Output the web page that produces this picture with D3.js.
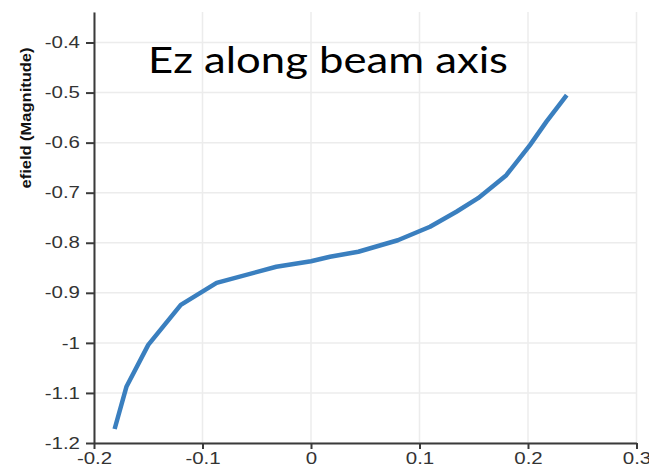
<!DOCTYPE html>
<html>
<head>
<meta charset="utf-8">
<script src="https://cdn.jsdelivr.net/npm/d3@7"></script>
<style>
  html, body { margin: 0; padding: 0; background: #fff; }
  svg { display: block; }
</style>
</head>
<body>
<svg id="chart" width="649" height="467"></svg>
<script>
// Ez field magnitude sampled along the beam axis
const positions = [-0.181, -0.170, -0.150, -0.120, -0.087, -0.032, 0.0, 0.0175, 0.0436, 0.0800, 0.1097, 0.134, 0.154, 0.171, 0.180, 0.2018, 0.217, 0.2357];
const efield    = [-1.172, -1.087, -1.004, -0.924, -0.880, -0.848, -0.837, -0.828, -0.818, -0.795, -0.768, -0.738, -0.711, -0.681, -0.665, -0.605, -0.558, -0.505];

const xTickValues = [-0.2, -0.1, 0, 0.1, 0.2, 0.3];
const xTickLabels = ["-0.2", "-0.1", "0", "0.1", "0.2", "0.3"];
const yTickValues = [-1.2, -1.1, -1.0, -0.9, -0.8, -0.7, -0.6, -0.5, -0.4];
const yTickLabels = ["-1.2", "-1.1", "-1", "-0.9", "-0.8", "-0.7", "-0.6", "-0.5", "-0.4"];

const titleText = "Ez along beam axis";
const yAxisTitle = "efield (Magnitude)";

const svg = d3.select("#chart");
const W = 649, H = 467;
const margin = { top: 12, right: 12.5, bottom: 24, left: 94 };
const iw = W - margin.left - margin.right;
const ih = H - margin.top - margin.bottom;

const x = d3.scaleLinear().domain([-0.2, 0.3]).range([0, iw]);
const y = d3.scaleLinear().domain([-1.2, -1.2 + ih / 500.6]).range([ih, 0]);

const g = svg.append("g").attr("transform", `translate(${margin.left},${margin.top})`);

// grid
const grid = g.append("g").attr("stroke", "#ececec").attr("stroke-width", 1.5);
grid.selectAll("line.v").data(xTickValues).join("line")
  .attr("class", "v")
  .attr("x1", d => x(d)).attr("x2", d => x(d))
  .attr("y1", 0).attr("y2", ih);
grid.selectAll("line.h").data(yTickValues).join("line")
  .attr("class", "h")
  .attr("x1", 0).attr("x2", iw)
  .attr("y1", d => y(d)).attr("y2", d => y(d));

const fontFam = "'Liberation Sans', Arial, sans-serif";
const stretch = 1.28;

// x axis
const xAxis = d3.axisBottom(x)
  .tickValues(xTickValues)
  .tickFormat((d, i) => xTickLabels[i])
  .tickSize(6).tickSizeOuter(0).tickPadding(4);
const gx = g.append("g").attr("transform", `translate(0,${ih})`).call(xAxis);
gx.select(".domain").attr("stroke", "#3a3a3a").attr("stroke-width", 2);
gx.selectAll(".tick line").attr("stroke", "#3a3a3a").attr("stroke-width", 2);
gx.selectAll(".tick text")
  .attr("font-family", fontFam).attr("font-size", 16).attr("fill", "#333")
  .each(function () {
    const t = d3.select(this);
    const yy = +t.attr("y");
    t.attr("y", 0).attr("transform", `translate(0,${yy}) scale(${stretch},1)`);
  });

// y axis
const yAxis = d3.axisLeft(y)
  .tickValues(yTickValues)
  .tickFormat((d, i) => yTickLabels[i])
  .tickSize(8).tickSizeOuter(0).tickPadding(6);
const gy = g.append("g").call(yAxis);
gy.select(".domain").attr("stroke", "#3a3a3a").attr("stroke-width", 2);
gy.selectAll(".tick line").attr("stroke", "#3a3a3a").attr("stroke-width", 2);
gy.selectAll(".tick text")
  .attr("font-family", fontFam).attr("font-size", 16).attr("fill", "#333")
  .each(function () {
    const t = d3.select(this);
    const xx = +t.attr("x");
    t.attr("x", 0).attr("transform", `translate(${xx},0) scale(${stretch},1)`);
  });

// y axis title
svg.append("text")
  .attr("transform", `translate(31,118) rotate(-90)`)
  .attr("text-anchor", "middle")
  .attr("font-family", fontFam)
  .attr("font-weight", "bold")
  .attr("font-size", 15)
  .attr("textLength", 141)
  .attr("lengthAdjust", "spacingAndGlyphs")
  .attr("fill", "#111")
  .text(yAxisTitle);

// data line
const line = d3.line().x((d, i) => x(positions[i])).y(d => y(d));
g.append("path")
  .datum(efield)
  .attr("fill", "none")
  .attr("stroke", "#3a7fbf")
  .attr("stroke-width", 4.5)
  .attr("stroke-linejoin", "round")
  .attr("d", line);

// title
svg.append("text")
  .attr("x", 148).attr("y", 72.7)
  .attr("font-family", "Lato, 'Open Sans', sans-serif")
  .attr("font-size", 37.5)
  .attr("textLength", 360)
  .attr("lengthAdjust", "spacingAndGlyphs")
  .attr("fill", "#000")
  .text(titleText);
</script>
</body>
</html>
